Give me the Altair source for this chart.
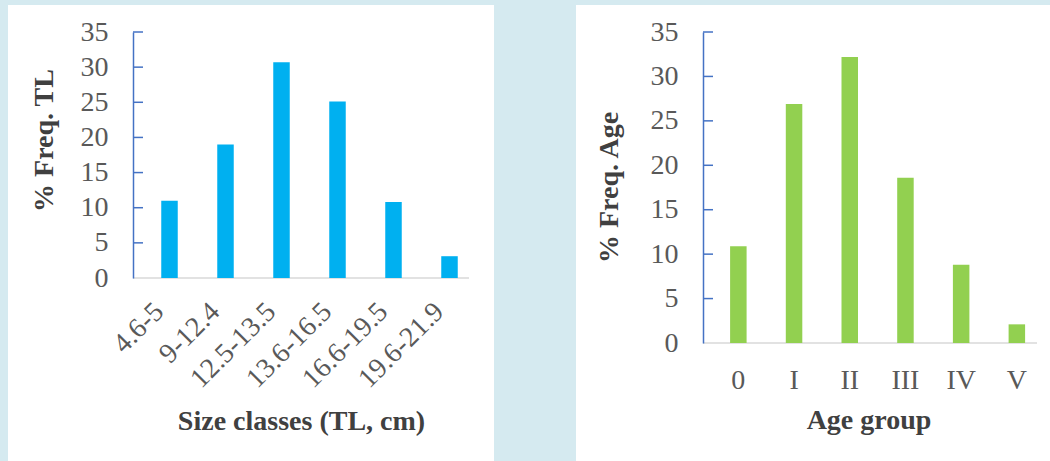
import altair as alt
import pandas as pd

# ---- data ----
size_classes = ["4.6-5", "9-12.4", "12.5-13.5", "13.6-16.5", "16.6-19.5", "19.6-21.9"]
size_freq = [11.0, 19.0, 30.7, 25.1, 10.8, 3.1]

age_groups = ["0", "I", "II", "III", "IV", "V"]
age_freq = [10.9, 26.9, 32.2, 18.6, 8.8, 2.1]

y_ticks = [0, 5, 10, 15, 20, 25, 30, 35]
inner_ticks = [5, 10, 15, 20, 25, 30, 35]

BG = "#d5eaf0"
FONT = "Liberation Serif"
LABEL = "#595959"
TITLE = "#404040"
AXIS_BLUE = "#4472c4"
BASE_GREY = "#d9d9d9"


def panel(cats, vals, color, xtitle, ytitle, w, h, xrange, bar_w, box,
          ytitle_pos, xtitle_pos, rotated):
    df = pd.DataFrame({"cat": cats, "v": vals})

    yenc = alt.Y(
        "v:Q",
        scale=alt.Scale(domain=[0, 35], nice=False, zero=True),
        axis=alt.Axis(
            values=y_ticks, title=ytitle, grid=False, ticks=False, tickSize=0,
            domainColor=AXIS_BLUE, domainWidth=1.5,
            labelFont=FONT, labelFontSize=28, labelColor=LABEL,
            labelPadding=25, labelOverlap=False, labelBaseline="middle",
            titleFont=FONT, titleFontSize=28, titleFontWeight="bold",
            titleColor=TITLE, titleAngle=270, titleAlign="center",
            titleBaseline="alphabetic", titleX=ytitle_pos[0], titleY=ytitle_pos[1],
            zindex=1,
        ),
    )

    if rotated:
        lab = dict(labelAngle=315, labelAlign="right", labelBaseline="bottom",
                   labelPadding=39)
    else:
        lab = dict(labelAngle=0, labelAlign="center", labelBaseline="alphabetic",
                   labelPadding=45)

    xenc = alt.X(
        "cat:N", sort=cats,
        scale=alt.Scale(range=xrange, paddingInner=0, paddingOuter=0),
        axis=alt.Axis(
            title=xtitle, domain=False, ticks=False, grid=False,
            labelFont=FONT, labelFontSize=28, labelColor=LABEL,
            labelOverlap=False, labelLimit=400,
            titleFont=FONT, titleFontSize=28, titleFontWeight="bold",
            titleColor=TITLE, titleAlign="center", titleBaseline="alphabetic",
            titleX=xtitle_pos[0], titleY=xtitle_pos[1], zindex=1,
            **lab,
        ),
    )

    backdrop = alt.Chart(pd.DataFrame({"a": [0]})).mark_rect(
        color="white", strokeWidth=0
    ).encode(
        x=alt.value(box[0]), x2=alt.value(box[1]),
        y=alt.value(box[2]), y2=alt.value(box[3]),
    )

    baseline = alt.Chart(pd.DataFrame({"v": [0]})).mark_rule(
        color=BASE_GREY, strokeWidth=1.5
    ).encode(y=yenc, x=alt.value(0), x2=alt.value(w))

    bars = alt.Chart(df).mark_bar(size=bar_w, color=color).encode(x=xenc, y=yenc)

    ticks = alt.Chart(pd.DataFrame({"v": inner_ticks})).mark_rule(
        color=AXIS_BLUE, strokeWidth=1.5
    ).encode(y=yenc, x=alt.value(0), x2=alt.value(10))

    return alt.layer(backdrop, baseline, bars, ticks).properties(width=w, height=h)


left = panel(
    size_classes, size_freq, "#00b0f0",
    "Size classes (TL, cm)", "% Freq. TL",
    w=336, h=246, xrange=[8.5, 344.5], bar_w=16.5,
    box=[-125, 361, -27, 429],
    ytitle_pos=(-81, 108), xtitle_pos=(168, 151), rotated=True,
)

right = panel(
    age_groups, age_freq, "#92d050",
    "Age group", "% Freq. Age",
    w=334, h=311, xrange=[7.5, 341.7], bar_w=16.5,
    box=[-127, 347, -27, 429],
    ytitle_pos=(-86, 155), xtitle_pos=(165.5, 85), rotated=False,
)

chart = alt.hconcat(left, right, spacing=234, bounds="flush").properties(
    padding={"left": 8, "top": 5, "right": 0, "bottom": 0},
    background=BG,
).configure_view(strokeWidth=0)

chart.save("out.html", embed_options={"renderer": "svg", "actions": False})
